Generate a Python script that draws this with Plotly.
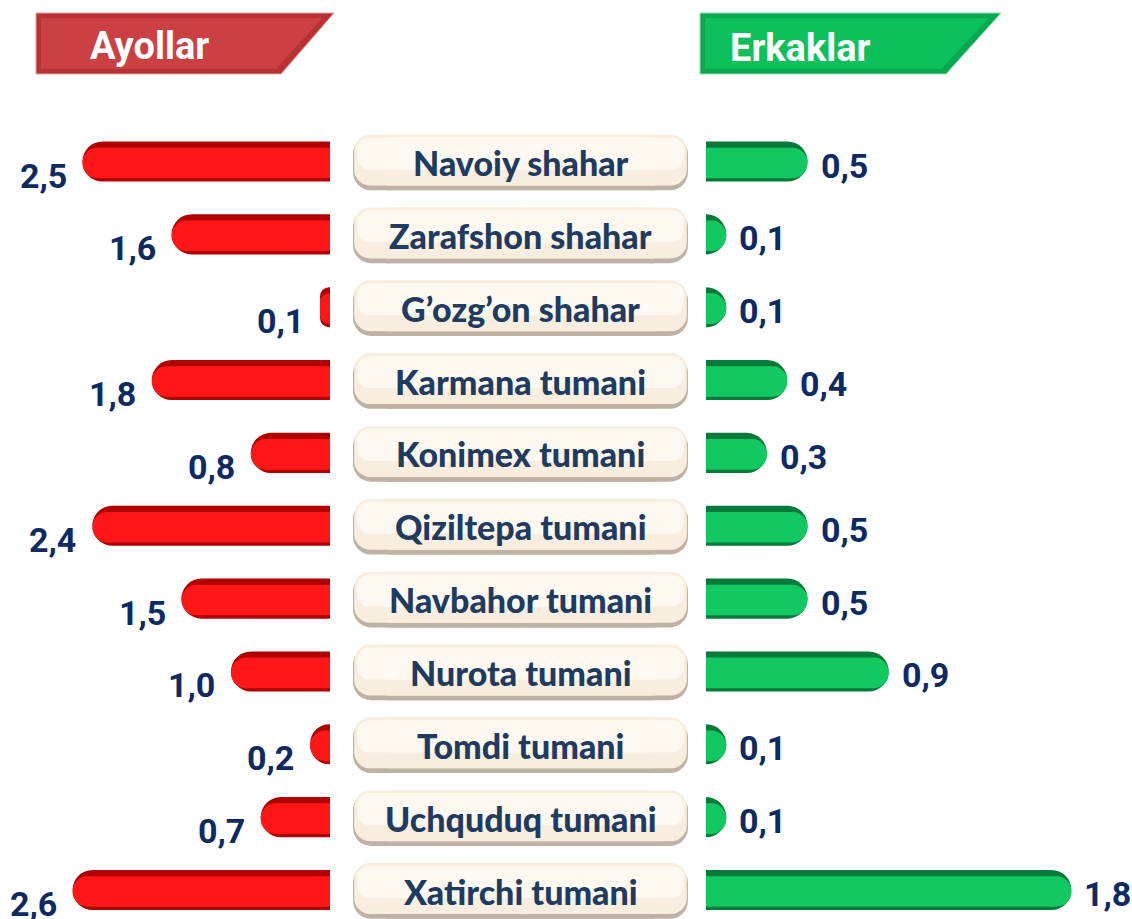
import plotly.graph_objects as go

categories = ["Navoiy shahar", "Zarafshon shahar", "G\u2019ozg\u2019on shahar", "Karmana tumani",
              "Konimex tumani", "Qiziltepa tumani", "Navbahor tumani", "Nurota tumani",
              "Tomdi tumani", "Uchquduq tumani", "Xatirchi tumani"]
ayollar = [2.5, 1.6, 0.1, 1.8, 0.8, 2.4, 1.5, 1.0, 0.2, 0.7, 2.6]
erkaklar = [0.5, 0.1, 0.1, 0.4, 0.3, 0.5, 0.5, 0.9, 0.1, 0.1, 1.8]
series_names = ["Ayollar", "Erkaklar"]

W, H = 1132, 919
NUM_FONT = "Liberation Sans Narrow, Roboto, sans-serif"
NUM_COLOR = "#0E2A63"
CAT_COLOR = "#1F3B60"

def fmt(v):
    return f"{v:.1f}".replace(".", ",")

fig = go.Figure()

n = len(categories)
# cream category boxes (two half-bars with rounded ends plus a flat middle piece)
box_layers = [
    dict(color="#BDB2A4", width=0.74, offset=-0.37 + 0.025, ext=1.0, r=18),
    dict(color="#F8EEDF", width=0.70, offset=-0.37, ext=0.993, r=16),
    dict(color="#FDF8F0", width=0.44, offset=-0.33, ext=0.975, r=12),
]
for lay in box_layers:
    for side in (-1, 1):
        fig.add_trace(go.Bar(y=categories, x=[side * lay["ext"]] * n, orientation="h",
                             xaxis="x3", yaxis="y", width=lay["width"], offset=lay["offset"],
                             marker=dict(color=lay["color"], cornerradius=lay["r"], line=dict(width=0)),
                             hoverinfo="skip", showlegend=False))
    fig.add_trace(go.Bar(y=categories, x=[1.6] * n, base=[-0.8] * n, orientation="h",
                         xaxis="x3", yaxis="y", width=lay["width"], offset=lay["offset"],
                         marker=dict(color=lay["color"], line=dict(width=0)),
                         hoverinfo="skip", showlegend=False))

# women bars (left)
fig.add_trace(go.Bar(y=categories, x=ayollar, orientation="h", xaxis="x", yaxis="y",
                     name=series_names[0], width=0.55,
                     marker=dict(color="#B00000", cornerradius=20, line=dict(width=0)),
                     hoverinfo="skip", showlegend=False))
fig.add_trace(go.Bar(y=categories, x=ayollar, orientation="h", xaxis="x", yaxis="y",
                     width=0.42, offset=-0.19,
                     marker=dict(color="#FF1616", cornerradius=15, line=dict(width=0)),
                     hoverinfo="skip", showlegend=False))

# men bars (right)
fig.add_trace(go.Bar(y=categories, x=erkaklar, orientation="h", xaxis="x2", yaxis="y",
                     name=series_names[1], width=0.55,
                     marker=dict(color="#067A38", cornerradius=20, line=dict(width=0)),
                     hoverinfo="skip", showlegend=False))
fig.add_trace(go.Bar(y=categories, x=erkaklar, orientation="h", xaxis="x2", yaxis="y",
                     width=0.42, offset=-0.19,
                     marker=dict(color="#12C860", cornerradius=15, line=dict(width=0)),
                     hoverinfo="skip", showlegend=False))

annotations = []
for c, a, e in zip(categories, ayollar, erkaklar):
    annotations.append(dict(x=a, y=c, xref="x", yref="y", text=fmt(a), showarrow=False,
                            xanchor="right", yanchor="middle", xshift=-14, yshift=-14,
                            font=dict(family=NUM_FONT, size=34, color=NUM_COLOR, weight="bold")))
    annotations.append(dict(x=e, y=c, xref="x2", yref="y", text=fmt(e), showarrow=False,
                            xanchor="left", yanchor="middle", xshift=11, yshift=-4,
                            font=dict(family=NUM_FONT, size=34, color=NUM_COLOR, weight="bold")))
    annotations.append(dict(x=0, y=c, xref="x3", yref="y", text=c, showarrow=False,
                            xanchor="center", yanchor="middle", yshift=-1,
                            font=dict(family="Lato, Open Sans, sans-serif", size=34,
                                      color=CAT_COLOR, weight=900)))

# header banners
def px(x):
    return x / W

def py(y):
    return 1 - y / H

shapes = [
    dict(type="path", xref="paper", yref="paper",
         path=f"M {px(36)} {py(13)} L {px(334)} {py(13)} L {px(281)} {py(74)} L {px(36)} {py(74)} Z",
         fillcolor="#B83234", line=dict(color="#E8A0A0", width=1), layer="below"),
    dict(type="path", xref="paper", yref="paper",
         path=f"M {px(41)} {py(18)} L {px(322)} {py(18)} L {px(276)} {py(69)} L {px(41)} {py(69)} Z",
         fillcolor="#CB4042", line=dict(width=0), layer="below"),
    dict(type="path", xref="paper", yref="paper",
         path=f"M {px(700)} {py(13)} L {px(1001)} {py(13)} L {px(946)} {py(74)} L {px(700)} {py(74)} Z",
         fillcolor="#09A84F", line=dict(color="#8EDDB0", width=1), layer="below"),
    dict(type="path", xref="paper", yref="paper",
         path=f"M {px(705)} {py(18)} L {px(989)} {py(18)} L {px(941)} {py(69)} L {px(705)} {py(69)} Z",
         fillcolor="#0CC15C", line=dict(width=0), layer="below"),
]
annotations.append(dict(x=px(149), y=py(46), xref="paper", yref="paper", text=series_names[0],
                        showarrow=False, xanchor="center", yanchor="middle",
                        font=dict(family=NUM_FONT, size=38, color="white", weight="bold")))
annotations.append(dict(x=px(800), y=py(48), xref="paper", yref="paper", text=series_names[1],
                        showarrow=False, xanchor="center", yanchor="middle",
                        font=dict(family=NUM_FONT, size=38, color="white", weight="bold")))

row_px = 72.85
first_px = 161.5
y_top = -first_px / row_px
y_bot = (H - first_px) / row_px

hidden = dict(showgrid=False, zeroline=False, showticklabels=False, showline=False, ticks="")
fig.update_layout(
    width=W, height=H, margin=dict(l=0, r=0, t=0, b=0),
    paper_bgcolor="white", plot_bgcolor="rgba(0,0,0,0)",
    barmode="overlay", showlegend=False,
    xaxis=dict(domain=[0, 330 / W], range=[330 / 99, 0], anchor="y", **hidden),
    xaxis2=dict(domain=[706 / W, 1], range=[0, (W - 706) / 203], anchor="y", **hidden),
    xaxis3=dict(domain=[353 / W, 688 / W], range=[-1, 1], anchor="y", **hidden),
    yaxis=dict(domain=[0, 1], range=[y_bot, y_top], type="category",
               categoryorder="array", categoryarray=categories, **hidden),
    annotations=annotations, shapes=shapes,
)

fig.write_html("out.html", config={"displayModeBar": False, "staticPlot": True},
               post_script="document.body.style.margin='0';document.body.style.overflow='hidden';")
